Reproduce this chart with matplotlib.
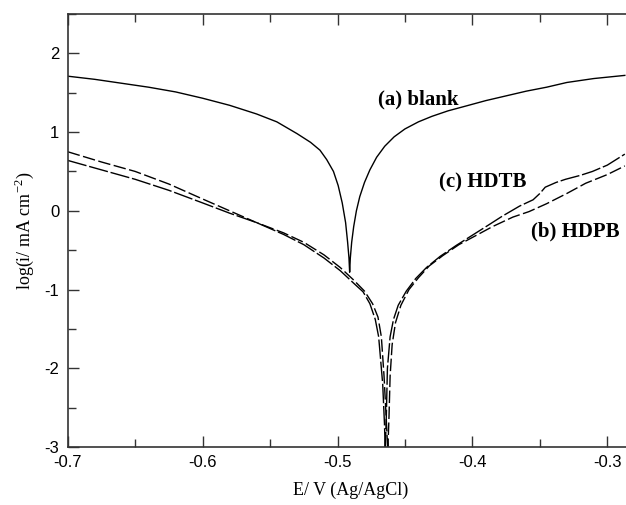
import matplotlib as mpl
mpl.use("Agg")
import matplotlib.pyplot as plt
from matplotlib.ticker import MultipleLocator

plt.rcParams['mathtext.fontset']='custom'
plt.rcParams['mathtext.rm']='Liberation Serif'
plt.rcParams['axes.unicode_minus']=False

# (a) blank, solid
blankE=[-0.700,-0.680,-0.660,-0.640,-0.620,-0.600,-0.580,-0.560,-0.545,-0.530,-0.520,-0.513,-0.508,-0.503,-0.4995,-0.4965,-0.494,-0.4925,-0.4915,-0.491,
        -0.4905,-0.4895,-0.488,-0.486,-0.4835,-0.480,-0.476,-0.471,-0.465,-0.458,-0.450,-0.440,-0.430,-0.418,-0.405,-0.390,-0.375,-0.360,-0.345,-0.330,-0.310,-0.287]
blankI=[1.71,1.67,1.62,1.57,1.51,1.43,1.34,1.23,1.13,0.98,0.87,0.77,0.65,0.50,0.32,0.10,-0.15,-0.40,-0.60,-0.78,
        -0.60,-0.40,-0.20,0.00,0.18,0.36,0.52,0.68,0.82,0.94,1.04,1.13,1.20,1.27,1.33,1.40,1.46,1.52,1.57,1.63,1.68,1.72]

# (b) HDPB, dashed
hdpbE=[-0.700,-0.675,-0.650,-0.625,-0.600,-0.580,-0.560,-0.540,-0.525,-0.510,-0.498,-0.488,-0.480,-0.474,-0.470,-0.4675,-0.4655,-0.4640,-0.4627,
       -0.4618,-0.461,-0.4595,-0.457,-0.453,-0.447,-0.440,-0.432,-0.422,-0.410,-0.398,-0.385,-0.370,-0.358,-0.345,-0.330,-0.316,-0.300,-0.287]
hdpbI=[0.75,0.62,0.50,0.34,0.15,0.00,-0.15,-0.28,-0.40,-0.56,-0.72,-0.88,-1.02,-1.18,-1.35,-1.60,-2.10,-2.60,-3.05,
       -2.60,-2.10,-1.70,-1.42,-1.20,-1.00,-0.85,-0.70,-0.57,-0.43,-0.32,-0.20,-0.08,-0.01,0.09,0.22,0.35,0.46,0.57]

# (c) HDTB, dashed
hdtbE=[-0.700,-0.675,-0.650,-0.625,-0.600,-0.580,-0.560,-0.540,-0.525,-0.510,-0.498,-0.488,-0.481,-0.476,-0.472,-0.4695,-0.4665,-0.4652,-0.4646,
       -0.4638,-0.463,-0.461,-0.4585,-0.455,-0.449,-0.442,-0.434,-0.424,-0.412,-0.400,-0.388,-0.378,-0.365,-0.355,-0.350,-0.346,-0.338,-0.331,-0.320,-0.311,-0.300,-0.287]
hdtbI=[0.64,0.52,0.40,0.26,0.10,-0.03,-0.15,-0.30,-0.43,-0.60,-0.76,-0.92,-1.03,-1.18,-1.38,-1.60,-2.20,-2.70,-3.05,
       -2.60,-2.00,-1.60,-1.38,-1.20,-1.02,-0.86,-0.72,-0.58,-0.44,-0.31,-0.18,-0.07,0.06,0.14,0.22,0.30,0.36,0.40,0.45,0.50,0.58,0.72]

fig=plt.figure(figsize=(6.26,5.05),dpi=100)
ax=fig.add_axes([0.1082,0.1149,0.905,0.8574])
ax.plot(blankE,blankI,color='black',lw=1.0)
ax.plot(hdpbE,hdpbI,color='black',lw=1.0,dashes=(9,2.5))
ax.plot(hdtbE,hdtbI,color='black',lw=1.0,dashes=(14,2))
ax.set_xlim(-0.7,-0.28)
ax.set_ylim(-3,2.5)
ax.xaxis.set_minor_locator(MultipleLocator(0.05))
ax.yaxis.set_minor_locator(MultipleLocator(0.5))
ax.set_xticks([-0.7,-0.6,-0.5,-0.4,-0.3])
ax.set_xticklabels(['-0.7','-0.6','-0.5','-0.4','-0.3'])
ax.set_yticks([-3,-2,-1,0,1,2])
ax.set_yticklabels(['-3','-2','-1','0','1','2'])
ax.tick_params(axis='both',which='both',direction='in',top=True,right=False,labelsize=12,width=1,pad=6,colors='#333333',labelcolor='black')
ax.tick_params(axis='both',which='major',length=8)
ax.tick_params(axis='both',which='minor',length=6)
for lab in ax.get_xticklabels()+ax.get_yticklabels():
  lab.set_family('Liberation Sans')
for s in ax.spines.values():
  s.set_linewidth(1.2)
  s.set_color('#333333')
ax.set_xlabel('E/ V (Ag/AgCl)',family='Liberation Serif',fontsize=13,labelpad=8)
ax.set_ylabel('log(i/ mA cm$^{-2}$)',family='Liberation Serif',fontsize=13,labelpad=6)
ax.text(-0.4405,1.41,'(a) blank',family='Liberation Serif',weight='bold',fontsize=15,ha='center',va='center')
ax.text(-0.392,0.36,'(c) HDTB',family='Liberation Serif',weight='bold',fontsize=15,ha='center',va='center')
ax.text(-0.324,-0.265,'(b) HDPB',family='Liberation Serif',weight='bold',fontsize=15,ha='center',va='center')
plt.savefig('out.png',dpi=100)
